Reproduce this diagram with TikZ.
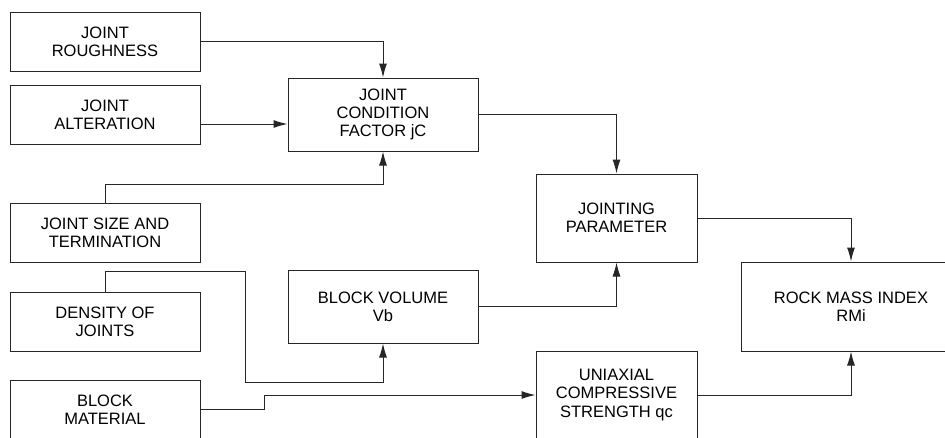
\documentclass[tikz,border=0pt]{standalone}
\usepackage{fontspec}
\setmainfont{Liberation Sans}
\usetikzlibrary{arrows.meta}
\begin{document}
\begin{tikzpicture}[x=1pt,y=-1pt,
  box/.style={draw=black!85, line width=1pt, align=center, inner sep=0pt,
    font=\fontsize{16.5}{18.3}\selectfont, text=black},
  smallbox/.style={box, minimum width=190pt, minimum height=59pt},
  midbox/.style={box, minimum width=190pt, minimum height=73pt},
  rightbox/.style={box, minimum width=161pt, minimum height=88pt},
  conn/.style={draw=black!85, line width=1pt, -{Latex[length=14pt,width=8pt]}}]
\useasboundingbox (0,0) rectangle (945,437);
\clip (0,0) rectangle (945,437);
\node[smallbox] (rough) at (105,41.5) {JOINT\\ROUGHNESS};
\node[smallbox] (alter) at (105,114.5) {JOINT\\ALTERATION};
\node[smallbox] (jsize) at (105,232.5) {JOINT SIZE AND\\TERMINATION};
\node[smallbox] (dens) at (105,321.5) {DENSITY OF\\JOINTS};
\node[smallbox] (bmat) at (105,409.5) {BLOCK\\MATERIAL};
\node[midbox] (jcf) at (383,114.5) {JOINT\\CONDITION\\FACTOR jC};
\node[midbox] (bvol) at (383,306.5) {BLOCK VOLUME\\Vb};
\node[rightbox] (jp) at (616.5,218) {JOINTING\\PARAMETER};
\node[rightbox] (ucs) at (616.5,395) {UNIAXIAL\\COMPRESSIVE\\STRENGTH qc};
\node[box, minimum width=220pt, minimum height=89pt] (rmi) at (851,306.5) {ROCK MASS INDEX\\RMi};
\coordinate (a1) at ([yshift=-9.5pt]alter.east);
\draw[conn] (rough.east) -| (jcf.north);
\draw[conn] (a1) -- (a1 -| jcf.west);
\draw[conn] (jsize.north) -- ++(0,-18) -| (jcf.south);
\draw[conn] (dens.north) -- ++(0,-20) -- ++(140,0) -- ++(0,111) -| (bvol.south);
\draw[conn] (bmat.east) -- ++(64,0) |- (ucs.west);
\draw[conn] (jcf.east) -| (jp.north);
\draw[conn] (bvol.east) -| (jp.south);
\draw[conn] (jp.east) -| (rmi.north);
\draw[conn] (ucs.east) -| (rmi.south);
\end{tikzpicture}
\end{document}
